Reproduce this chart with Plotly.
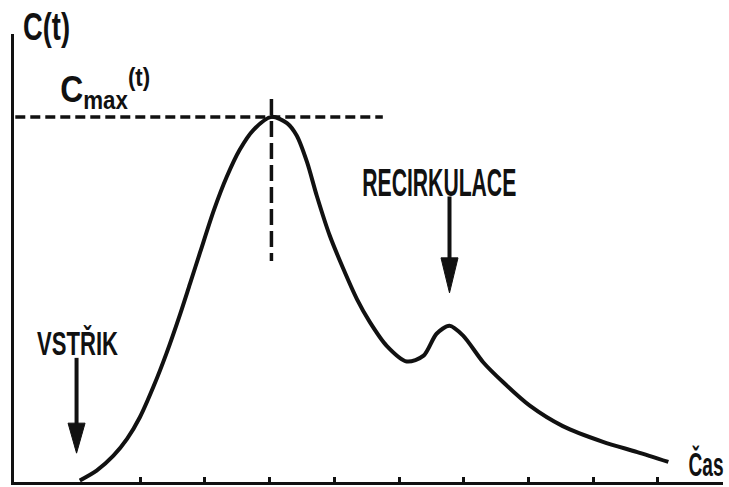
import plotly.graph_objects as go

# ---- data ----
# time in tick units (curve starts at injection, t = 0), concentration with Cmax = 100
t_vals = [0.07, 0.33, 0.59, 0.80, 1.00, 1.21, 1.41, 1.62, 1.77, 1.93, 2.14, 2.34,
          2.54, 2.75, 3.03, 3.27, 3.42, 3.58, 3.73, 3.93, 4.14, 4.35, 4.55, 4.81,
          5.12, 5.38, 5.58, 5.78, 5.99, 6.30, 6.61, 7.02, 7.53, 8.15, 8.68, 9.16]
c_vals = [0.4, 3.1, 7.2, 11.8, 17.8, 26.2, 35.3, 46.0, 54.2, 63.0, 74.4, 83.6,
          91.0, 96.4, 100.0, 98.3, 94.9, 87.6, 78.4, 67.5, 58.4, 50.1, 43.8, 37.3,
          33.0, 34.6, 40.6, 42.8, 40.1, 32.8, 27.3, 20.9, 15.3, 11.0, 8.2, 5.5]
tick_t = [1, 2, 3, 4, 5, 6, 7, 8, 9]

c_max = 100.0          # C_max(t)
t_peak = 3.03          # time of C_max
t_injection = 0.02     # VSTŘIK
t_recirc = 5.78        # RECIRKULACE

# ---- geometry helpers ----
X_RANGE = [-0.946, 10.004]
Y_RANGE = [0.0, 122.7]
PX_PER_T = 64.75
PX_PER_C = 3.65

FONT = "Liberation Sans, Arial, Helvetica, sans-serif"
INK = "#111111"

fig = go.Figure()

fig.add_trace(go.Scatter(
    x=t_vals, y=c_vals, mode="lines",
    line=dict(color=INK, width=4, shape="spline", smoothing=0.8),
    hoverinfo="skip",
))

shapes = []
# horizontal dashed Cmax line
shapes.append(dict(type="line", xref="x", yref="y",
                   x0=X_RANGE[0] + 0.02, x1=t_peak + 1.72, y0=c_max, y1=c_max,
                   line=dict(color=INK, width=3.5, dash="10px,5px")))
# vertical dashed line at the peak
shapes.append(dict(type="line", xref="x", yref="y",
                   x0=t_peak, x1=t_peak, y0=c_max + 4.9, y1=c_max - 39.5,
                   line=dict(color=INK, width=3.5, dash="16px,6px")))


def arrow(t, c_top, c_tip, head_px, half_w_px=8.5):
    c_base = c_tip + head_px / PX_PER_C
    hw = half_w_px / PX_PER_T
    shapes.append(dict(type="line", xref="x", yref="y", x0=t, x1=t,
                       y0=c_top, y1=c_base - 1, line=dict(color=INK, width=4)))
    shapes.append(dict(type="path", xref="x", yref="y",
                       path=f"M {t-hw},{c_base} L {t+hw},{c_base} L {t},{c_tip} Z",
                       fillcolor=INK, line=dict(color=INK, width=1)))


arrow(t_injection, 34.0, 7.9, 30)
arrow(t_recirc, 78.2, 51.8, 35)

annotations = [
    dict(text="C(t)", xref="x", yref="paper", x=-0.444, y=1.016,
         xanchor="center", yanchor="middle", showarrow=False,
         font=dict(family=FONT, size=39, color=INK, weight="bold")),
    dict(text="C<sub>max</sub><sup>(t)</sup>", xref="x", yref="y", x=0.46, y=107.8,
         xanchor="center", yanchor="middle", showarrow=False,
         font=dict(family=FONT, size=37, color=INK, weight="bold")),
    dict(text="VSTŘIK", xref="x", yref="y", x=0.035, y=37.9,
         xanchor="center", yanchor="middle", showarrow=False,
         font=dict(family=FONT, size=33, color=INK, weight="bold")),
    dict(text="RECIRKULACE", xref="x", yref="y", x=5.633, y=81.9,
         xanchor="center", yanchor="middle", showarrow=False,
         font=dict(family=FONT, size=38, color=INK, weight="bold")),
    dict(text="Čas", xref="paper", yref="paper", x=1.004, y=-0.006,
         xanchor="right", yanchor="bottom", showarrow=False,
         font=dict(family=FONT, size=33, color=INK, weight="bold")),
]

fig.update_layout(
    width=729, height=487,
    margin=dict(l=14, r=6, t=34, b=5),
    paper_bgcolor="white", plot_bgcolor="white",
    showlegend=False,
    shapes=shapes,
    annotations=annotations,
    xaxis=dict(range=X_RANGE, showline=True, linewidth=3, linecolor=INK,
               ticks="inside", tickvals=tick_t, ticklen=5, tickwidth=3,
               tickcolor=INK, showticklabels=False, showgrid=False,
               zeroline=False, fixedrange=True),
    yaxis=dict(range=Y_RANGE, showline=True, linewidth=3, linecolor=INK,
               ticks="", showticklabels=False, showgrid=False,
               zeroline=False, fixedrange=True),
)

# condensed lettering: squeeze each label horizontally to the reference width
# (about its centre, or about its right edge for the right-anchored axis label)
POST = """
document.body.style.margin = '0';
var targetWidths = {'0': 47, '1': 90, '2': 81, '3': 154, '4': 35};
var origin = {'4': 'right'};
document.querySelectorAll('g.annotation').forEach(function (g) {
  var i = g.getAttribute('data-index');
  if (!(i in targetWidths)) return;
  var t = g.querySelector('text.annotation-text');
  if (!t) return;
  var b = t.getBBox();
  if (!b.width) return;
  var s = targetWidths[i] / b.width;
  var cx = origin[i] === 'right' ? b.x + b.width : b.x + b.width / 2;
  t.setAttribute('transform', 'translate(' + cx + ',0) scale(' + s + ',1) translate(' + (-cx) + ',0)');
});
"""

fig.write_html("out.html", post_script=POST, config={"displayModeBar": False})
